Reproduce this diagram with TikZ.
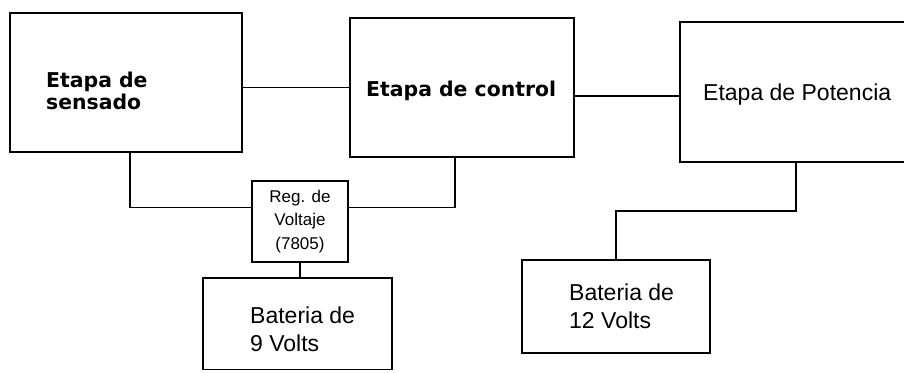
\documentclass[tikz,border=0pt]{standalone}
\usepackage{fontspec}
\setmainfont{Liberation Sans}
\newfontfamily\stagefont{DejaVu Sans}
\usepackage{tikz}
\usetikzlibrary{positioning}
\tikzset{
  block/.style={rectangle, draw, line width=1.8pt, inner sep=0pt},
  boldlabel/.style={anchor=west, inner sep=0pt, align=left,
    font=\stagefont\bfseries\fontsize{20.4}{22}\selectfont},
  plainlabel/.style={anchor=west, inner sep=0pt, align=left,
    font=\fontsize{23}{28}\selectfont},
  wire/.style={line width=1.8pt},
}

\begin{document}
\begin{tikzpicture}[x=1pt, y=-1pt]
  \clip (0,0) rectangle (904,372);
  \node[block, minimum width=232pt, minimum height=139pt]
    (sensado) at (126,82.5) {};
  \node[block, minimum width=224pt, minimum height=139pt]
    (control) at (462,87.5) {};
  \node[block, minimum width=232pt, minimum height=140pt]
    (potencia) at (796,92) {};
  \node[block, minimum width=96pt, minimum height=81pt, align=center,
        font=\fontsize{17}{23.5}\selectfont]
    (reg) at (300,221.5) {Reg. de\\Voltaje\\(7805)};
  \node[block, minimum width=189pt, minimum height=91.5pt]
    (bat9) at (297.5,323.75) {};
  \node[block, minimum width=188pt, minimum height=93pt]
    (bat12) at (616,306.5) {};
  \node[boldlabel] (sensado-txt) at (46,91) {Etapa de\\sensado};
  \node[boldlabel] (control-txt) at (366,91) {Etapa de control};
  \node[plainlabel] (potencia-txt) at (703,95) {Etapa de Potencia};
  \node[plainlabel] (bat9-txt) at (250,329) {Bateria de\\9 Volts};
  \node[plainlabel] (bat12-txt) at (569,306.5) {Bateria de\\12 Volts};
  \draw[wire] ([yshift=-5pt]sensado.east) -- (control.west);
  \draw[wire] ([yshift=-8.5pt]control.east) -- ([yshift=-8.5pt]control.east -| potencia.west);
  \draw[wire] ([xshift=4pt]sensado.south) |- ([yshift=14pt]reg.west);
  \draw[wire] ([yshift=14pt]reg.east) -| ([xshift=-7pt]control.south);
  \draw[wire] (reg.south) -- (reg.south |- bat9.north);
  \draw[wire] (potencia.south) -- ++(0,48) -| (bat12.north);
\end{tikzpicture}
\end{document}
